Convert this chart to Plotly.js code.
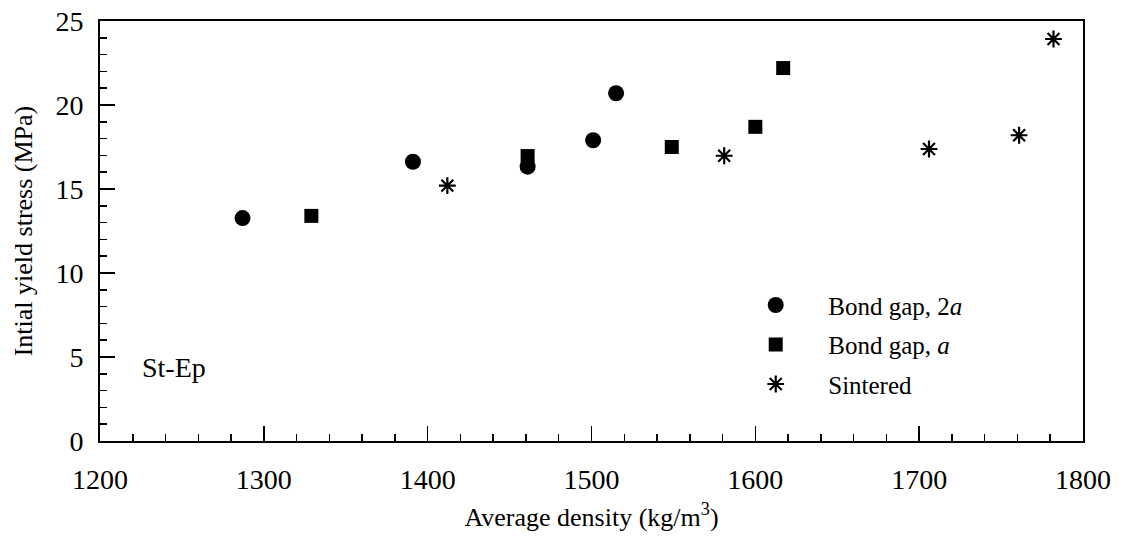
<!DOCTYPE html>
<html>
<head>
<meta charset="utf-8">
<script src="https://cdn.plot.ly/plotly-3.0.1.min.js"></script>
<style>html,body{margin:0;padding:0;background:#fff;}#chart{width:1121px;height:537px;}</style>
</head>
<body>
<div id="chart"></div>
<script>
// Bond gap, 2a (circles)
const gap2aDensity = [1287, 1391, 1461, 1501, 1515];
const gap2aStress  = [13.27, 16.62, 16.33, 17.9, 20.7];
// Bond gap, a (squares)
const gapADensity = [1329, 1461, 1549, 1600, 1617];
const gapAStress  = [13.4, 16.96, 17.5, 18.7, 22.2];
// Sintered (asterisks)
const sinteredDensity = [1412, 1581, 1706, 1761, 1782];
const sinteredStress  = [15.2, 16.98, 17.38, 18.2, 23.93];

const seriesNames = ['Bond gap, 2<i>a</i>', 'Bond gap, <i>a</i>', 'Sintered'];
const xTicks = [1200, 1300, 1400, 1500, 1600, 1700, 1800];
const yTicks = [0, 5, 10, 15, 20, 25];

const FONT = "'Liberation Serif', 'Times New Roman', serif";

const traces = [
  {x: gap2aDensity, y: gap2aStress, name: seriesNames[0], type: 'scatter', mode: 'markers',
   legendgroup: 'g1', marker: {symbol: 'circle', size: 16, color: '#000'}},
  {x: gapADensity, y: gapAStress, name: seriesNames[1], type: 'scatter', mode: 'markers',
   legendgroup: 'g2', marker: {symbol: 'square', size: 14, color: '#000'}},
  {x: sinteredDensity, y: sinteredStress, name: seriesNames[2], type: 'scatter', mode: 'markers',
   legendgroup: 'g3', marker: {symbol: 'asterisk-open', size: 14, color: '#000', line: {color: '#000', width: 2.2}}}
];

const axisCommon = {
  showgrid: false, zeroline: false, showline: true, linecolor: '#000', linewidth: 2,
  mirror: true, ticks: 'inside', ticklen: 15, tickwidth: 1.5, tickcolor: '#000',
  tickfont: {family: FONT, size: 28, color: '#000'}
};

const layout = {
  width: 1121, height: 537,
  margin: {l: 100, r: 38, t: 21, b: 96},
  paper_bgcolor: '#fff', plot_bgcolor: '#fff',
  font: {family: FONT, size: 24, color: '#000'},
  xaxis: Object.assign({}, axisCommon, {
    range: [1200, 1800], tickvals: xTicks, ticktext: xTicks.map(String),
    ticklabelstandoff: 12,
    minor: {dtick: 20, tick0: 1200, ticks: 'inside', ticklen: 7, tickwidth: 1.5, tickcolor: '#000'},
    title: {text: 'Average density (kg/m<sup>3</sup>)', font: {family: FONT, size: 26, color: '#000'}, standoff: 14}
  }),
  yaxis: Object.assign({}, axisCommon, {
    range: [0, 25], tickvals: yTicks, ticktext: yTicks.map(String),
    ticklabelstandoff: 9,
    minor: {dtick: 1, tick0: 0, ticks: 'inside', ticklen: 7, tickwidth: 1.5, tickcolor: '#000'},
    title: {text: 'Intial yield stress (MPa)', font: {family: FONT, size: 26, color: '#000'}, standoff: 15}
  }),
  showlegend: true,
  legend: {
    x: 0.634, y: 0.378, xanchor: 'left', yanchor: 'top',
    bgcolor: 'rgba(0,0,0,0)', borderwidth: 0,
    font: {family: FONT, size: 25, color: '#000'},
    itemwidth: 95, traceorder: 'grouped', tracegroupgap: 4
  },
  annotations: [{
    text: 'St-Ep', xref: 'paper', yref: 'paper', x: 0.0407, y: 0.176,
    xanchor: 'left', yanchor: 'middle', showarrow: false,
    font: {family: FONT, size: 28, color: '#000'}
  }]
};

Plotly.newPlot('chart', traces, layout, {displayModeBar: false, staticPlot: true});
</script>
</body>
</html>
